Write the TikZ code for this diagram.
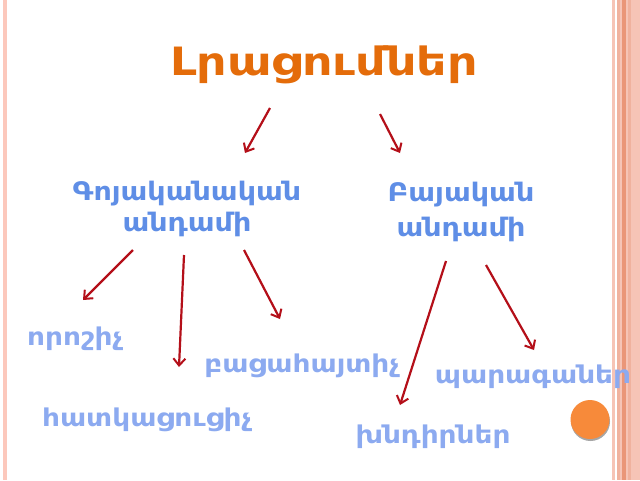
\documentclass[tikz,border=0pt]{standalone}
\usepackage{fontspec}
\newfontfamily\armtitle[FakeStretch=1.22]{DejaVu Sans}
\newfontfamily\armcat[FakeStretch=1.12]{DejaVu Sans}
\newfontfamily\armleaf[FakeStretch=1.14]{DejaVu Sans}
\usetikzlibrary{arrows.meta}
\definecolor{titleorange}{RGB}{228,108,10}
\definecolor{topblue}{RGB}{95,142,230}
\definecolor{lowblue}{RGB}{140,170,240}
\definecolor{arrred}{RGB}{180,15,25}
\definecolor{dotorange}{RGB}{247,138,58}
\definecolor{stripeA}{RGB}{246,196,182}
\definecolor{stripeB}{RGB}{240,178,158}
\definecolor{stripeC}{RGB}{234,150,120}
\definecolor{stripeL}{RGB}{252,200,188}
\tikzset{
  title/.style={font=\armtitle\bfseries\fontsize{39}{40}\selectfont, text=titleorange, inner sep=0pt},
  cat/.style={font=\armcat\bfseries\fontsize{25.5}{31}\selectfont, text=topblue, align=center, inner sep=0pt},
  catwide/.style={cat, font=\armcat\bfseries\fontsize{25.5}{35}\selectfont},
  leaf/.style={font=\armleaf\bfseries\fontsize{24.5}{28}\selectfont, text=lowblue, inner sep=0pt},
  conn/.style={draw=arrred, line width=2.2pt, -{Straight Barb[length=7pt,width=12pt,line width=2pt]}},
}
\begin{document}
\begin{tikzpicture}[x=1pt,y=-1pt]
\useasboundingbox (0,0) rectangle (640,480);
\fill[white] (0,0) rectangle (640,480);
% borders
\fill[stripeL] (3,0) rectangle (7,480);
\fill[stripeA] (612,0) rectangle (614.5,480);
\fill[stripeB] (617,0) rectangle (640,480);
\fill[stripeA] (620,0) rectangle (622,480);
\fill[stripeC] (622,0) rectangle (626,480);
\fill[stripeA] (626,0) rectangle (628,480);
\fill[stripeA] (631,0) rectangle (640,480);
% dot
\fill[black!35] (590.5,421.5) circle (19.5);
\fill[dotorange] (590,419.5) circle (19.5);
% texts
\node[title] (t) at (324,65) {Լրացումներ};
\node[cat] (g) at (187,209) {Գոյականական\\անդամի};
\node[catwide] (b) at (461,212) {Բայական\\անդամի};
\node[leaf] (l1) at (75,339) {որոշիչ};
\node[leaf] (l2) at (302,366) {բացահայտիչ};
\node[leaf] (l3) at (147,420) {հատկացուցիչ};
\node[leaf] (l4) at (533,377) {պարագաներ};
\node[leaf] (l5) at (433,437) {խնդիրներ};
% arrow ends
\coordinate (a1s) at (270,108); \coordinate (a1e) at (245,153);
\coordinate (a2s) at (380,114); \coordinate (a2e) at (400,153);
\coordinate (a3s) at (133,250); \coordinate (a3e) at (83,300);
\coordinate (a4s) at (184,255); \coordinate (a4e) at (179,367);
\coordinate (a5s) at (244,250); \coordinate (a5e) at (280,319);
\coordinate (a6s) at (446,261); \coordinate (a6e) at (400,405);
\coordinate (a7s) at (486,265); \coordinate (a7e) at (534,350);
\draw[conn] (a1s) -- (a1e);
\draw[conn] (a2s) -- (a2e);
\draw[conn] (a3s) -- (a3e);
\draw[conn] (a4s) -- (a4e);
\draw[conn] (a5s) -- (a5e);
\draw[conn] (a6s) -- (a6e);
\draw[conn] (a7s) -- (a7e);
\end{tikzpicture}
\end{document}
